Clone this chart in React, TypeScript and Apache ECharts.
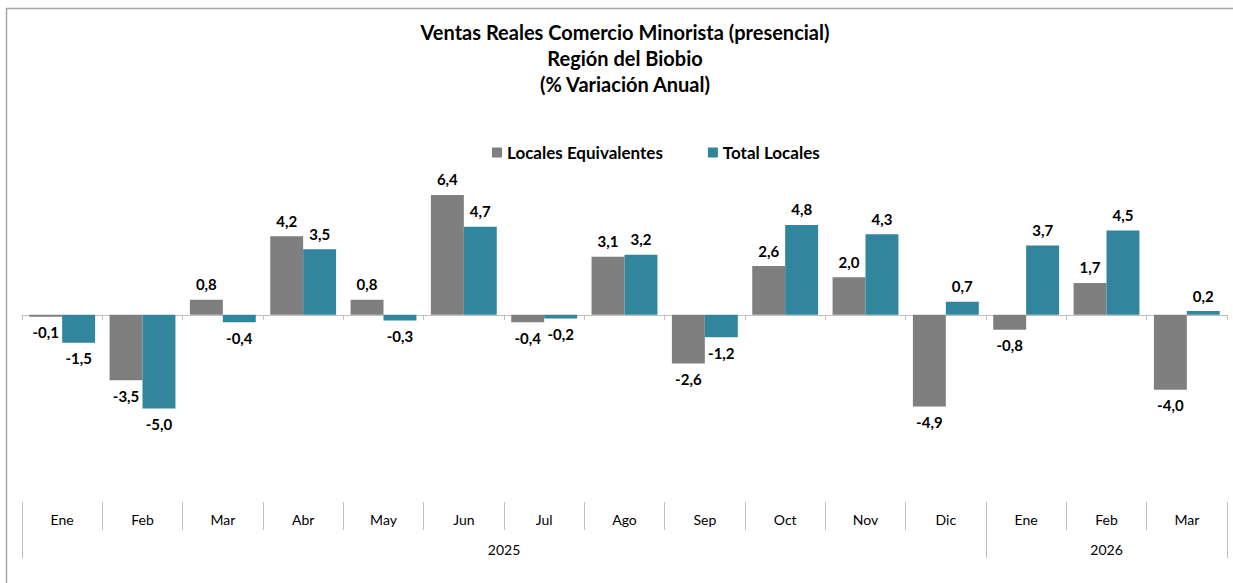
import React, { useEffect, useRef } from "react";
import * as echarts from "echarts";

const months = ["Ene", "Feb", "Mar", "Abr", "May", "Jun", "Jul", "Ago", "Sep", "Oct", "Nov", "Dic", "Ene", "Feb", "Mar"];
const localesEquivalentes = [-0.1, -3.5, 0.8, 4.2, 0.8, 6.4, -0.4, 3.1, -2.6, 2.6, 2.0, -4.9, -0.8, 1.7, -4.0];
const totalLocales = [-1.5, -5.0, -0.4, 3.5, -0.3, 4.7, -0.2, 3.2, -1.2, 4.8, 4.3, 0.7, 3.7, 4.5, 0.2];
const years = ["2025", "2026"];
const yearBoundaries = [0, 12, 15];
const titleLines = ["Ventas Reales Comercio Minorista (presencial)", "Región del Biobio", "(% Variación Anual)"];

const FONT = "Lato, 'Open Sans', sans-serif";
const GRAY = "#7F7F7F";
const TEAL = "#31859C";

const fmt = (v: number) => v.toFixed(1).replace(".", ",");

const toData = (arr: number[]) =>
  arr.map((v) => ({
    value: v,
    label: { position: v < 0 ? "bottom" : "top" },
  }));

// year label positions: centre of each year's span
const yearCenters = years.map((_, i) => (yearBoundaries[i] + yearBoundaries[i + 1]) / 2);

export default function App() {
  const ref = useRef<HTMLDivElement>(null);
  useEffect(() => {
    const chart = echarts.init(ref.current!, null, { renderer: "svg" });
    const labelStyle = {
      show: true,
      distance: 8,
      fontFamily: FONT,
      fontSize: 15,
      fontWeight: "bold",
      color: "#000",
      formatter: (p: any) => fmt(p.value),
    };
    chart.setOption({
      animation: false,
      backgroundColor: "#ffffff",
      title: {
        text: titleLines.join("\n"),
        left: 620,
        textAlign: "center",
        top: 14,
        textStyle: { fontFamily: FONT, fontSize: 20, fontWeight: "bold", color: "#000", lineHeight: 26 },
      },
      legend: {
        top: 139,
        left: 487,
        itemWidth: 10,
        itemHeight: 10,
        itemGap: 45,
        icon: "rect",
        textStyle: { fontFamily: FONT, fontSize: 17, fontWeight: "bold", color: "#000" },
        data: ["Locales Equivalentes", "Total Locales"],
      },
      grid: { left: 22, top: 165, width: 1205, height: 337 },
      xAxis: [
        {
          type: "category",
          data: months,
          gridIndex: 0,
          axisLine: { onZero: true, lineStyle: { color: "#BFBFBF", width: 1 } },
          axisTick: { show: true, length: 5, lineStyle: { color: "#BFBFBF" } },
          axisLabel: { show: false },
        },
        {
          type: "category",
          data: months,
          gridIndex: 0,
          position: "bottom",
          axisLine: { show: false, onZero: false },
          axisTick: { show: true, length: 28, interval: 0, lineStyle: { color: "#BFBFBF" } },
          axisLabel: { show: true, interval: 0, margin: 10, fontFamily: FONT, fontSize: 14, color: "#000" },
        },
        {
          type: "value",
          gridIndex: 0,
          position: "bottom",
          min: 0,
          max: 15,
          axisLine: { show: false, onZero: false },
          splitLine: { show: false },
          axisTick: { show: true, length: 56, customValues: yearBoundaries, lineStyle: { color: "#BFBFBF" } },
          axisLabel: {
            show: true,
            customValues: yearCenters,
            margin: 40,
            fontFamily: FONT,
            fontSize: 14,
            color: "#000",
            formatter: (v: number) => {
              const i = yearCenters.indexOf(v);
              return i >= 0 ? years[i] : "";
            },
          },
        },
      ],
      yAxis: {
        type: "value",
        min: -10,
        max: 8,
        show: false,
        splitLine: { show: false },
      },
      series: [
        {
          name: "Locales Equivalentes",
          type: "bar",
          xAxisIndex: 0,
          data: toData(localesEquivalentes),
          itemStyle: { color: GRAY },
          barGap: "0%",
          barCategoryGap: "18%",
          label: labelStyle,
        },
        {
          name: "Total Locales",
          type: "bar",
          xAxisIndex: 0,
          data: toData(totalLocales),
          itemStyle: { color: TEAL },
          barGap: "0%",
          barCategoryGap: "18%",
          label: labelStyle,
        },
      ],
      graphic: [
        { type: "line", shape: { x1: 6, y1: 8.5, x2: 1233, y2: 8.5 }, style: { stroke: "#A6A6A6", lineWidth: 1.5 } },
        { type: "line", shape: { x1: 6.5, y1: 8, x2: 6.5, y2: 583 }, style: { stroke: "#A6A6A6", lineWidth: 1.5 } },
      ],
    });
    return () => chart.dispose();
  }, []);
  return <div ref={ref} style={{ position: "fixed", left: 0, top: 0, width: 1233, height: 583 }} />;
}
